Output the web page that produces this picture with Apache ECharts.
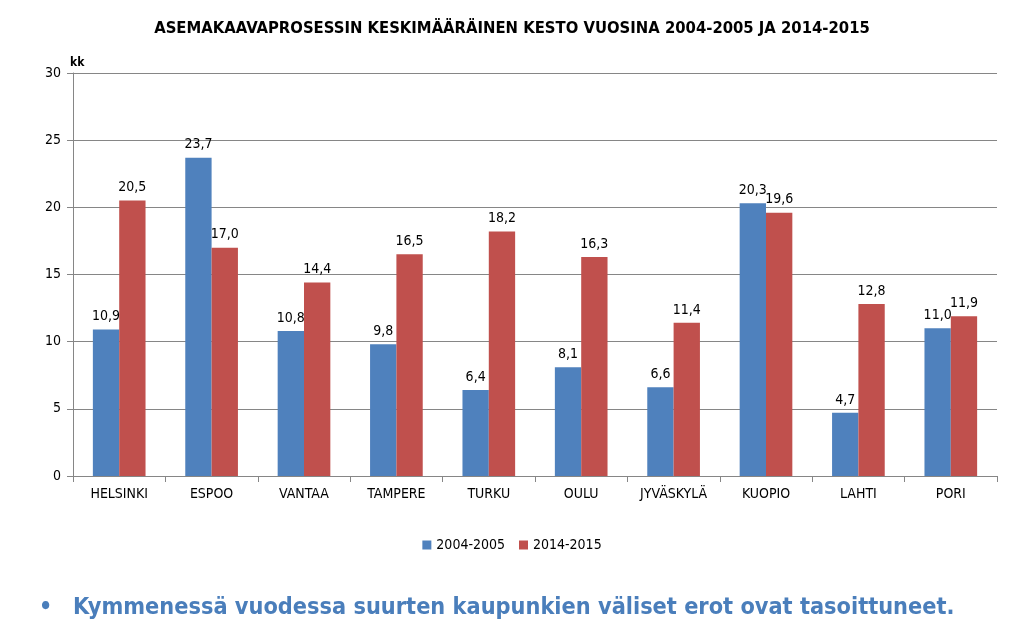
<!DOCTYPE html>
<html><head><meta charset="utf-8">
<script src="https://cdn.jsdelivr.net/npm/echarts@6/dist/echarts.min.js"></script>
<style>html,body{margin:0;padding:0;background:#fff}#c{width:1024px;height:631px}</style>
</head><body><div id="c"></div>
<script>
const categories = ['HELSINKI','ESPOO','VANTAA','TAMPERE','TURKU','OULU','JYVÄSKYLÄ','KUOPIO','LAHTI','PORI'];
const series1Name = '2004-2005';
const series2Name = '2014-2015';
const values2004 = [10.9, 23.7, 10.8, 9.8, 6.4, 8.1, 6.6, 20.3, 4.7, 11.0];
const values2014 = [20.5, 17.0, 14.4, 16.5, 18.2, 16.3, 11.4, 19.6, 12.8, 11.9];
const yTicks = [0, 5, 10, 15, 20, 25, 30];
const titleText = 'ASEMAKAAVAPROSESSIN KESKIMÄÄRÄINEN KESTO VUOSINA 2004-2005 JA 2014-2015';
const unitText = 'kk';
const bulletText = '•';
const noteText = 'Kymmenessä vuodessa suurten kaupunkien väliset erot ovat tasoittuneet.';

const FONT = '"Liberation Sans Narrow","DejaVu Sans Condensed","Open Sans",sans-serif';
const chart = echarts.init(document.getElementById('c'), null, {renderer:'canvas'});
const lbl = {show:true, position:'top', distance:6, color:'#000', fontFamily:FONT, fontSize:14,
  formatter: p => p.value.toFixed(1).replace('.', ',')};
chart.setOption({
  animation:false,
  title:[{text:titleText, left:'center', top:15, textStyle:{fontFamily:FONT, fontWeight:'bold', fontSize:16.5, color:'#000'}},
         {text:unitText, left:65, top:52, textStyle:{fontFamily:FONT, fontWeight:'bold', fontSize:12, color:'#000'}},
         {text:bulletText, left:34, top:592, textStyle:{fontFamily:FONT, fontWeight:'bold', fontSize:23, color:'#4A7EBB'}},
         {text:noteText, left:68, top:591, textStyle:{fontFamily:FONT, fontWeight:'bold', fontSize:23.3, color:'#4A7EBB'}}],
  legend:{bottom:74, left:'center', itemWidth:9, itemHeight:9, itemGap:14, icon:'rect',
    textStyle:{fontFamily:FONT, fontSize:14, color:'#000'}, data:[series1Name, series2Name]},
  grid:{left:73, right:27, top:73, bottom:155, containLabel:false},
  xAxis:{type:'category', data:categories,
    axisLine:{lineStyle:{color:'#868686'}},
    axisTick:{show:true, length:6, lineStyle:{color:'#868686'}},
    axisLabel:{color:'#000', fontFamily:FONT, fontSize:14, margin:11}},
  yAxis:{type:'value', min:0, max:30, interval:5,
    axisLine:{show:true, lineStyle:{color:'#868686'}},
    axisTick:{show:true, length:6, lineStyle:{color:'#868686'}},
    splitLine:{lineStyle:{color:'#868686'}},
    axisLabel:{color:'#000', fontFamily:FONT, fontSize:14, margin:12,
      formatter: v => yTicks.includes(v) ? String(v) : ''}},
  series:[
    {name:series1Name, type:'bar', data:values2004, itemStyle:{color:'#4F81BD'}, barGap:'0%', barCategoryGap:'43%', label:lbl},
    {name:series2Name, type:'bar', data:values2014, itemStyle:{color:'#C0504D'}, label:lbl}
  ]
});
</script></body></html>
